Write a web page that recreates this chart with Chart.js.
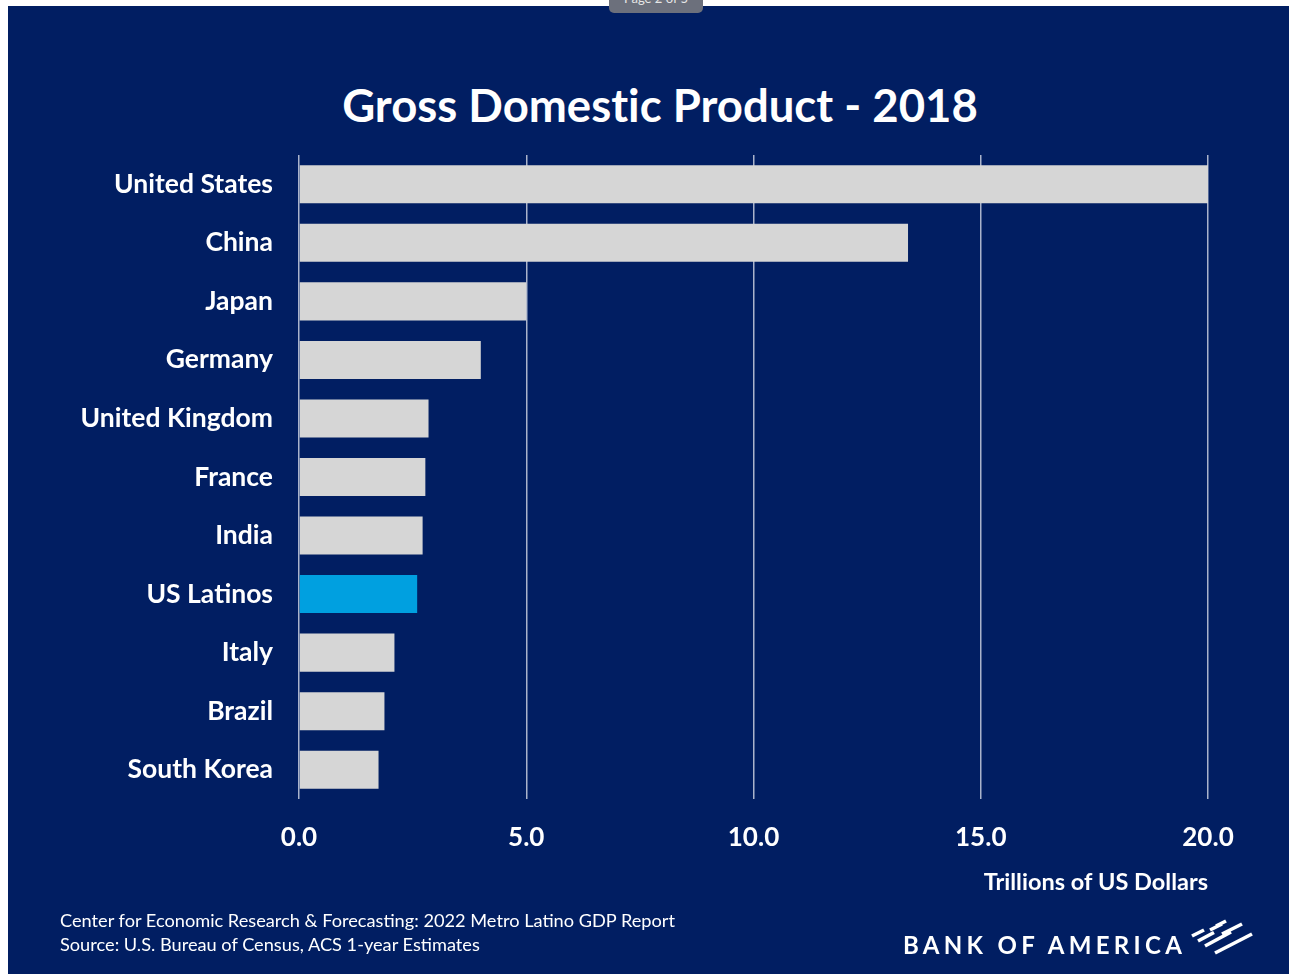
<!DOCTYPE html>
<html>
<head>
<meta charset="utf-8">
<script src="https://cdn.jsdelivr.net/npm/chart.js@4/dist/chart.umd.min.js"></script>
<style>
  html, body { margin: 0; padding: 0; background: #ffffff; width: 1289px; height: 974px; overflow: hidden; }
  #panel { position: absolute; left: 8px; top: 6px; width: 1281px; height: 968px; background: #011e62; }
  #tab { position: absolute; left: 609px; top: -9px; width: 94px; height: 22px; background: #6c707c; border-radius: 0 0 5px 5px;
         color: #e6e6e6; font: 13px Lato, sans-serif; text-align: center; line-height: 14px; overflow: hidden; }
  #wrap { position: absolute; left: 0; top: 0; width: 1289px; height: 974px; }
  #title { position: absolute; left: 0; width: 1320px; top: 77px; text-align: center; color: #ffffff;
           font-family: Lato, "Open Sans", sans-serif; font-weight: 700; font-size: 45.5px; line-height: 56px;
           font-variant-ligatures: none; white-space: nowrap; }
  .foot { position: absolute; left: 60px; color: #ffffff; font-family: Lato, "Open Sans", sans-serif; font-size: 18.2px; white-space: nowrap; }
  #bofa { position: absolute; left: 903px; top: 930px; color: #ffffff; font-family: Lato, sans-serif; font-weight: 700;
          font-size: 24px; letter-spacing: 4.3px; white-space: nowrap; }
  #flag { position: absolute; left: 1180px; top: 910px; }
</style>
</head>
<body>
<div id="panel"></div>
<div id="tab">Page 2 of 5</div>
<div id="title">Gross Domestic Product - 2018</div>
<div id="wrap"><canvas id="c" width="1289" height="974"></canvas></div>
<div class="foot" style="top:909px">Center for Economic Research &amp; Forecasting: 2022 Metro Latino GDP Report</div>
<div class="foot" style="top:933px">Source: U.S. Bureau of Census, ACS 1-year Estimates</div>
<div id="bofa">BANK OF AMERICA</div>
<svg id="flag" width="80" height="50" viewBox="0 0 80 50">
  <g stroke="#ffffff" stroke-width="3.6" stroke-linecap="butt" fill="none">
    <line x1="12" y1="26" x2="24" y2="20"/>
    <line x1="18" y1="31" x2="34" y2="22.5"/>
    <line x1="25" y1="36" x2="51" y2="22"/>
    <line x1="35" y1="43" x2="72" y2="24"/>
    <line x1="30" y1="20" x2="42" y2="14"/>
    <line x1="36" y1="16" x2="46" y2="11"/>
    <line x1="42" y1="24" x2="62" y2="14"/>
  </g>
</svg>
<script>
const categories = ["United States", "China", "Japan", "Germany", "United Kingdom", "France", "India", "US Latinos", "Italy", "Brazil", "South Korea"];
const gdpTrillions = [20.0, 13.4, 5.0, 4.0, 2.85, 2.78, 2.72, 2.6, 2.1, 1.88, 1.75];
const highlightCategory = "US Latinos";
const xTicks = [0, 5, 10, 15, 20];

const barColors = categories.map(c => c === highlightCategory ? "#00a0e0" : "#d6d6d6");
const fontFamily = "Lato, 'Open Sans', sans-serif";

new Chart(document.getElementById("c"), {
  type: "bar",
  data: {
    labels: categories,
    datasets: [{
      data: gdpTrillions,
      backgroundColor: barColors,
      borderWidth: 0,
      barPercentage: 0.65,
      categoryPercentage: 1.0
    }]
  },
  options: {
    indexAxis: "y",
    responsive: false,
    animation: false,
    devicePixelRatio: 1,
    layout: { padding: { left: 0, right: 81, top: 155, bottom: 0 } },
    plugins: {
      legend: { display: false },
      tooltip: { enabled: false },
      title: { display: false }
    },
    scales: {
      x: {
        min: 0, max: 20,
        afterFit: s => { s.height = 175; },
        afterBuildTicks: s => { s.ticks = xTicks.map(v => ({ value: v })); },
        grid: { color: "rgba(200,206,222,0.85)", lineWidth: 1.5, drawTicks: false },
        border: { display: false },
        ticks: {
          color: "#ffffff",
          padding: 23,
          font: { family: fontFamily, size: 26, weight: "bold" },
          callback: v => Number(v).toFixed(1)
        },
        title: {
          display: true,
          text: "Trillions of US Dollars",
          align: "end",
          color: "#ffffff",
          font: { family: fontFamily, size: 23.5, weight: "bold" },
          padding: { top: 0, bottom: 77 }
        }
      },
      y: {
        afterFit: s => { s.width = 299; },
        grid: { display: false },
        border: { display: false },
        ticks: {
          color: "#ffffff",
          padding: 18,
          font: { family: fontFamily, size: 26.5, weight: "bold" }
        }
      }
    }
  }
});
</script>
</body>
</html>
